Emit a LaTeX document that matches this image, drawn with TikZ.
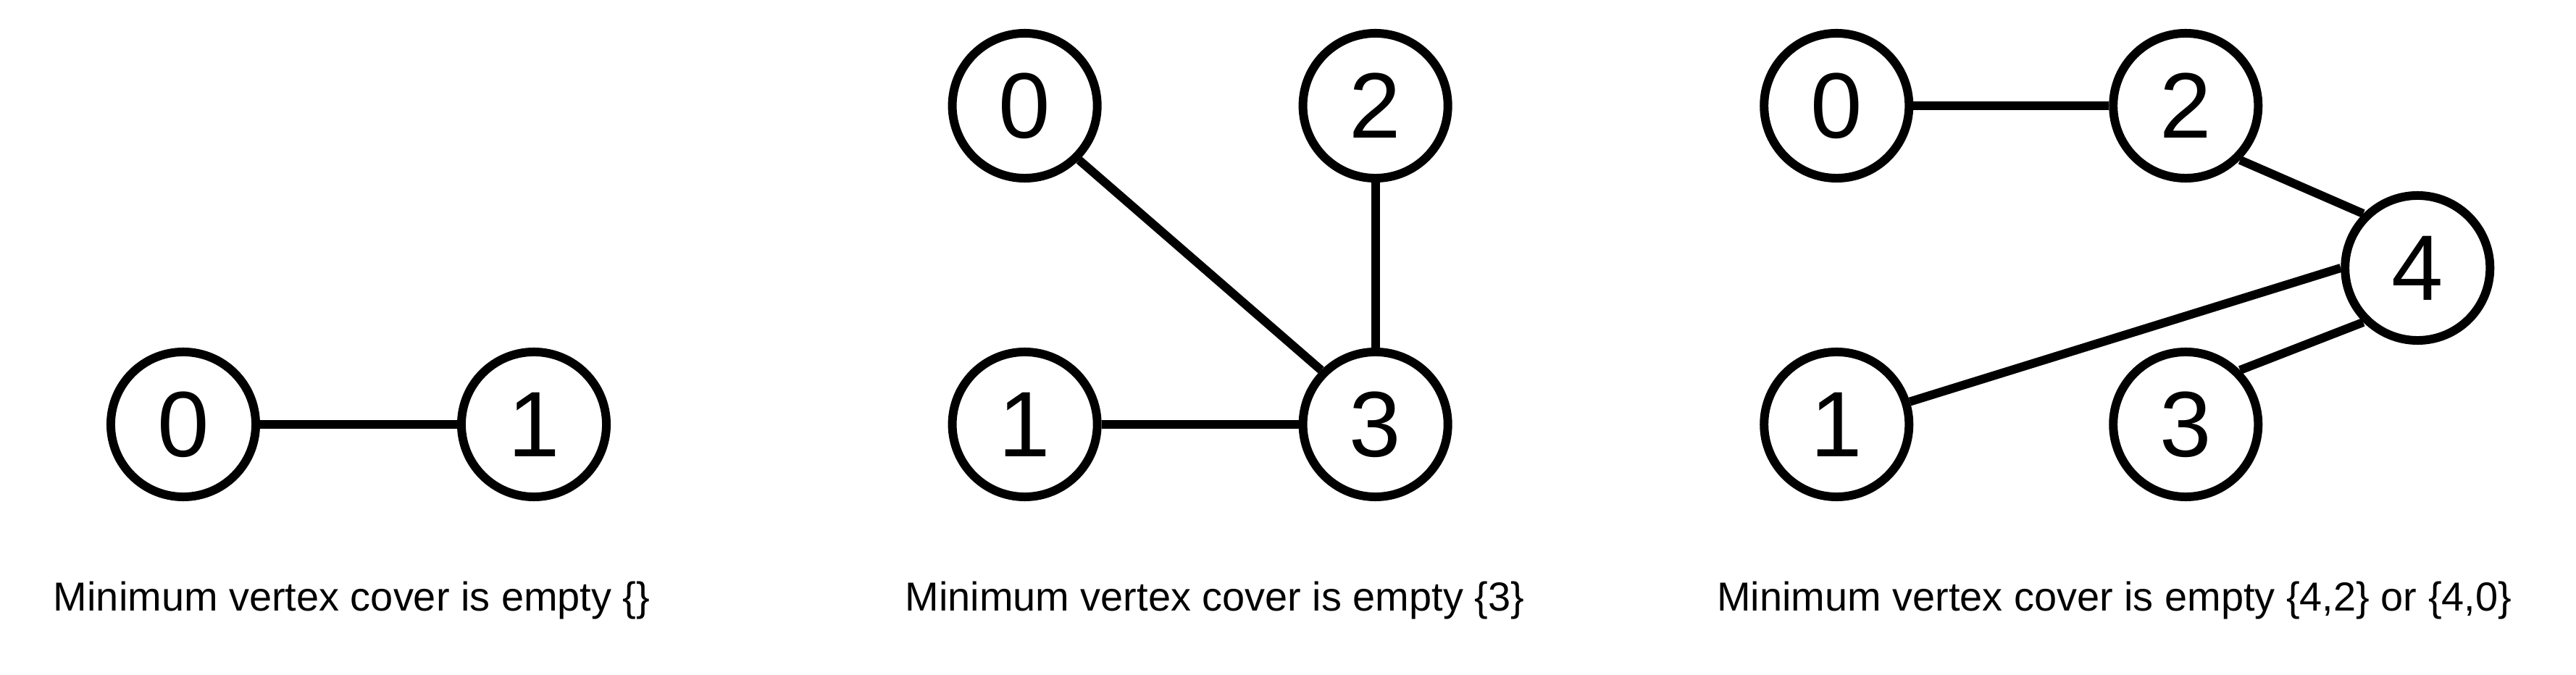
\documentclass[tikz,border=0pt]{standalone}
\usepackage{fontspec}
\setmainfont{Liberation Sans}
\def\h{0.01}
\tikzset{
	vertex/.style={circle,draw,line width=3.4pt,minimum size=2cm,inner sep=0pt,
		font=\fontsize{36.5}{40}\selectfont},
	note/.style={anchor=base west,inner sep=0pt,font=\fontsize{15.9}{19}\selectfont}
}
\def\vtx#1#2#3#4{
	\node[vertex] (#1) at ({#2*\h},{-#3*\h}) {#4};
}
\def\beschrift#1#2#3{
	\node[note] (#1) at ({#2*\h},{-844*\h}) {#3};
}
\begin{document}
\begin{tikzpicture}[line width=3.4pt]
\useasboundingbox (0,0) rectangle ({3556*\h},{-932*\h});
% erster Graph
\vtx{a0}{253}{586}{0} \vtx{a1}{737}{586}{1}
\draw (a0) -- (a1);
\beschrift{ta}{68}{Minimum vertex cover is empty \{\}}
% zweiter Graph
\begin{scope}[xshift=11.61cm]
\vtx{b0}{253}{146}{0} \vtx{b2}{737}{146}{2}
\vtx{b1}{253}{586}{1} \vtx{b3}{737}{586}{3}
\draw (b0.south east) -- (b3.north west);
\draw (b2) -- (b3);
\draw (b1) -- (b3);
\beschrift{tb}{82}{Minimum vertex cover is empty \{3\}}
\end{scope}
% dritter Graph
\begin{scope}[xshift=22.81cm]
\vtx{c0}{253}{146}{0} \vtx{c2}{735}{146}{2}
\vtx{c1}{253}{586}{1} \vtx{c3}{735}{586}{3}
\vtx{c4}{1055}{370}{4}
\draw (c0) -- (c2);
\draw (c2.south east) -- (c4.north west);
\draw (c1) -- (c4.west);
\draw (c3.north east) -- (c4.south west);
\beschrift{tc}{82}{Minimum vertex cover is empty \{4,2\} or \{4,0\}}
\end{scope}
\end{tikzpicture}
\end{document}
